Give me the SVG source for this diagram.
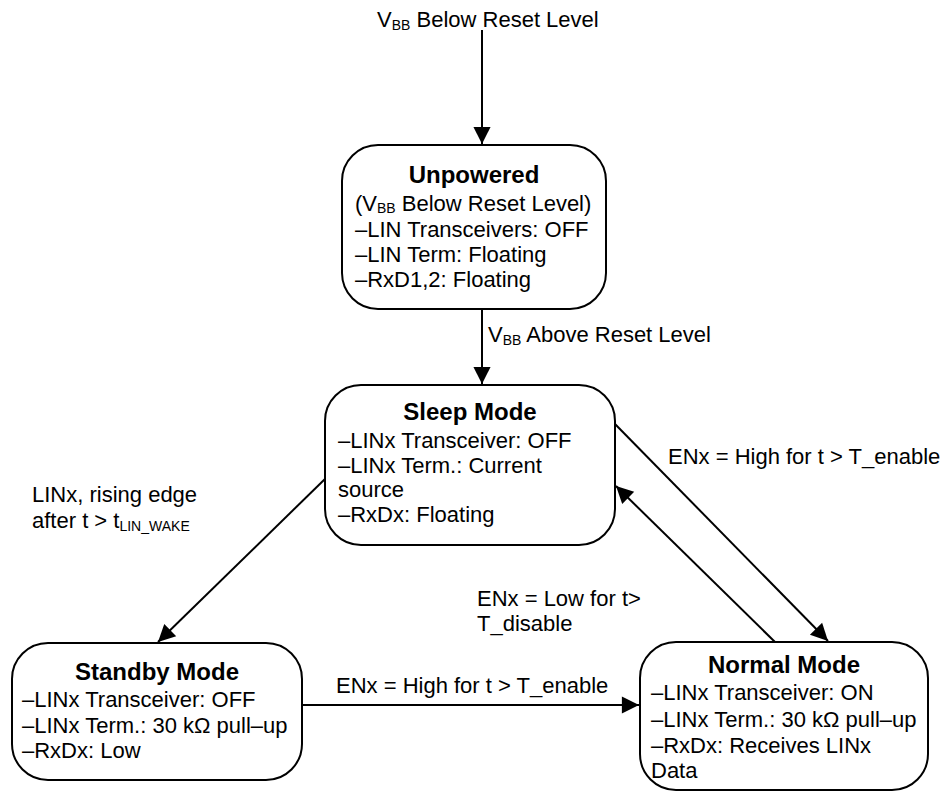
<svg xmlns="http://www.w3.org/2000/svg" width="947" height="793" viewBox="0 0 947 793">
<style>
text{font-family:"Liberation Sans",Arial,Helvetica,sans-serif;font-size:22px;fill:#000}
.t{font-weight:bold;font-size:24px;text-anchor:middle}
.sub{font-size:14px}
.box{fill:#fff;stroke:#000;stroke-width:2}
.c{stroke:#000;stroke-width:2;fill:none;marker-end:url(#ah)}
</style>
<defs>
<marker id="ah" viewBox="0 0 10 10" refX="10" refY="5" markerWidth="9" markerHeight="9" markerUnits="userSpaceOnUse" orient="auto" style="overflow:visible">
<path d="M0,0 L10,5 L0,10 z" fill="#000" transform="scale(1.9)" transform-origin="10 5"/>
</marker>
</defs>
<g id="connectors">
<line class="c" x1="482" y1="30" x2="482" y2="144"/>
<line class="c" x1="482" y1="309" x2="482" y2="384"/>
<line class="c" x1="326" y1="478" x2="158" y2="642"/>
<line class="c" x1="302" y1="705" x2="639" y2="705"/>
<line class="c" x1="614" y1="423" x2="828" y2="641"/>
<line class="c" x1="775" y1="642" x2="616" y2="486"/>
<text x="377" y="27">V<tspan class="sub" dy="3">BB</tspan><tspan dy="-3"> Below Reset Level</tspan></text>
<text x="488" y="342">V<tspan class="sub" dy="3">BB</tspan><tspan dy="-3"> Above Reset Level</tspan></text>
<text x="668" y="464">ENx = High for t &gt; T_enable</text>
<text x="32" y="502">LINx, rising edge</text>
<text x="32" y="528">after t &gt; t<tspan class="sub" dy="3">LIN_WAKE</tspan></text>
<text x="477" y="606">ENx = Low for t&gt;</text>
<text x="477" y="631">T_disable</text>
<text x="336" y="693">ENx = High for t &gt; T_enable</text>
</g>
<g id="unpowered">
<rect class="box" x="342" y="145" width="264" height="164" rx="36"/>
<text class="t" x="474" y="183">Unpowered</text>
<text x="355" y="211">(V<tspan class="sub" dy="2">BB</tspan><tspan dy="-2"> Below Reset Level)</tspan></text>
<text x="355" y="237">–LIN Transceivers: OFF</text>
<text x="355" y="262">–LIN Term: Floating</text>
<text x="355" y="287">–RxD1,2: Floating</text>
</g>
<g id="sleep">
<rect class="box" x="325" y="385" width="290" height="160" rx="36"/>
<text class="t" x="470" y="420">Sleep Mode</text>
<text x="338" y="448">–LINx Transceiver: OFF</text>
<text x="338" y="473">–LINx Term.: Current</text>
<text x="338" y="497">source</text>
<text x="338" y="522">–RxDx: Floating</text>
</g>
<g id="standby">
<rect class="box" x="12" y="643" width="290" height="137" rx="36"/>
<text class="t" x="157" y="680">Standby Mode</text>
<text x="22" y="707">–LINx Transceiver: OFF</text>
<text x="22" y="733">–LINx Term.: 30 kΩ pull–up</text>
<text x="22" y="758">–RxDx: Low</text>
</g>
<g id="normal">
<rect class="box" x="640" y="642" width="288" height="148" rx="36"/>
<text class="t" x="784" y="673">Normal Mode</text>
<text x="651" y="700">–LINx Transceiver: ON</text>
<text x="651" y="727">–LINx Term.: 30 kΩ pull–up</text>
<text x="651" y="753">–RxDx: Receives LINx</text>
<text x="651" y="778">Data</text>
</g>
</svg>
